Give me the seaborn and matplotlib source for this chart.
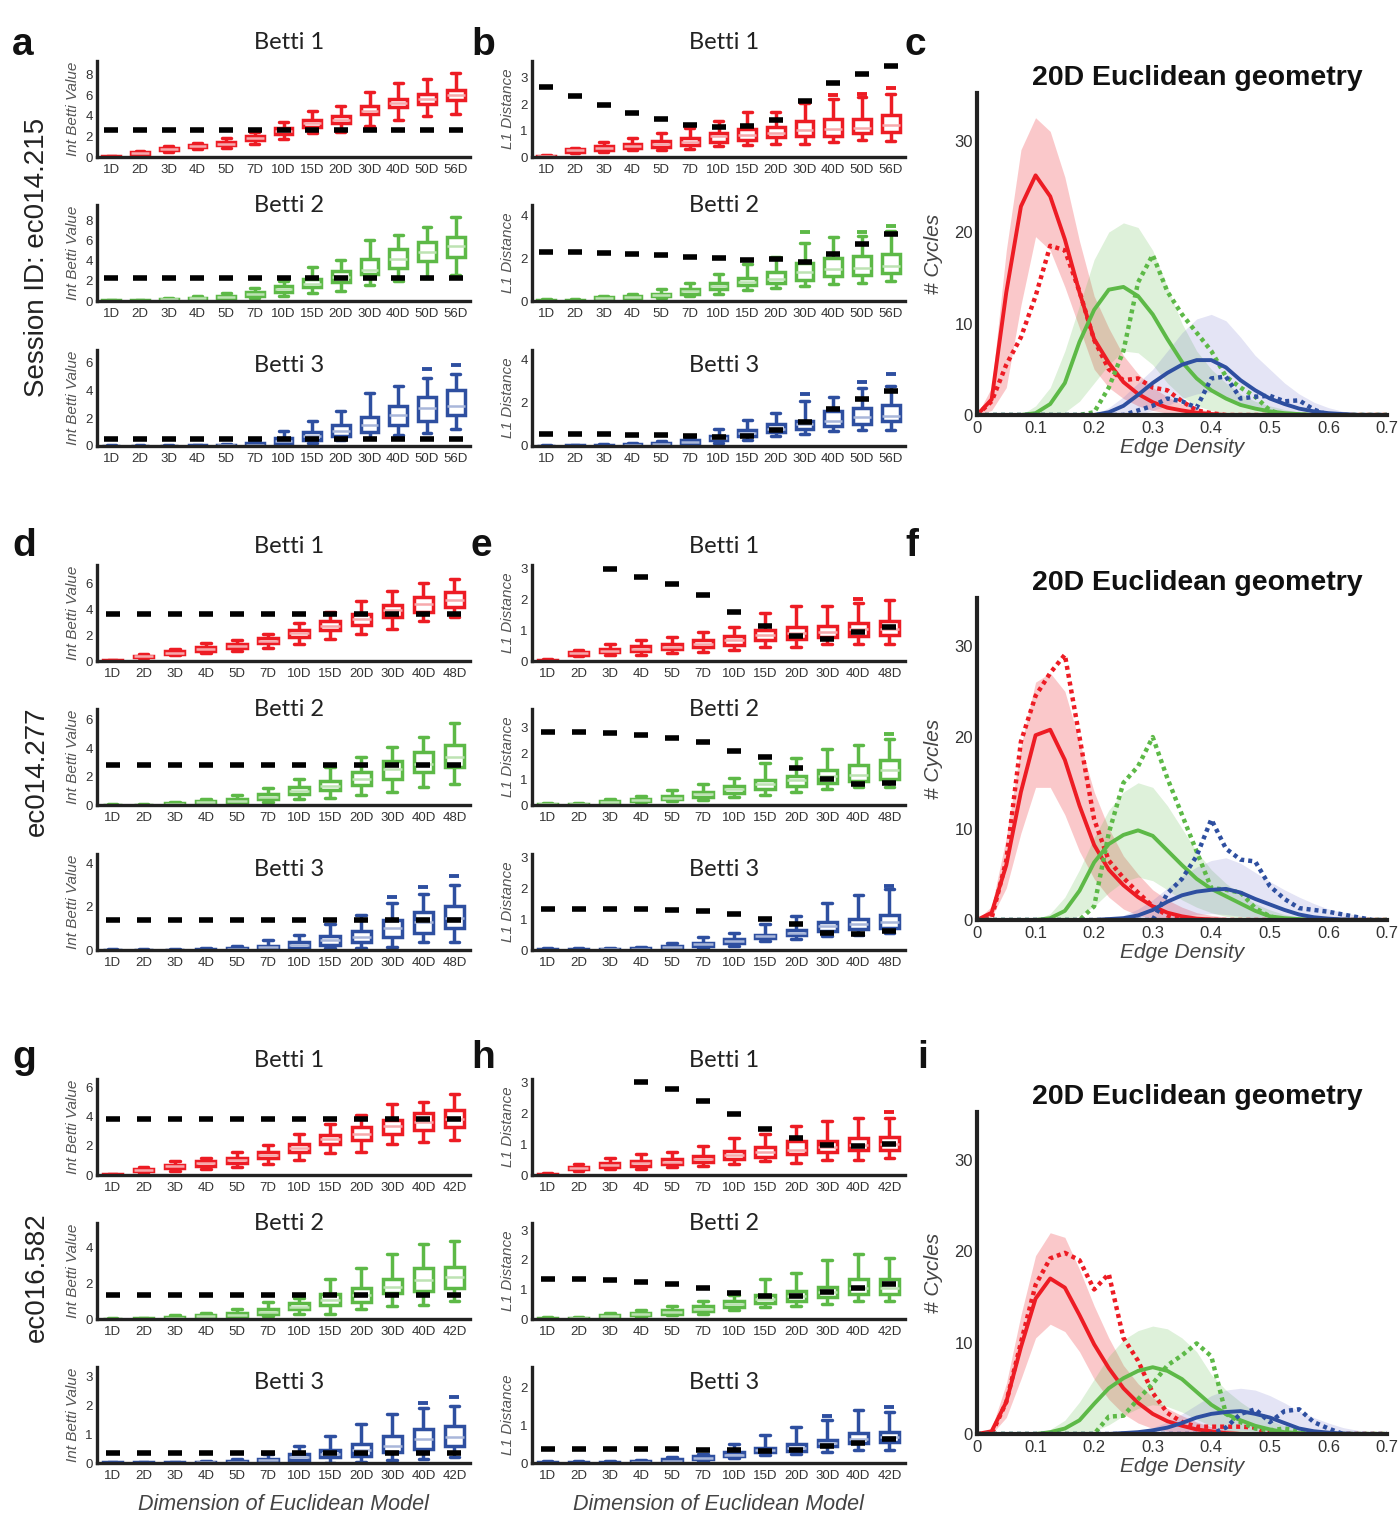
import numpy as np
import pandas as pd
import matplotlib
matplotlib.use("Agg")
import matplotlib.pyplot as plt
import seaborn as sns

sns.set_theme(style="white")
plt.rcParams["font.family"] = ["Liberation Sans", "DejaVu Sans"]

# ---------------------------------------------------------------- data
DIMS1 = ["1D", "2D", "3D", "4D", "5D", "7D", "10D", "15D", "20D", "30D", "40D", "50D", "56D"]
DIMS2 = ["1D", "2D", "3D", "4D", "5D", "7D", "10D", "15D", "20D", "30D", "40D", "48D"]
DIMS3 = ["1D", "2D", "3D", "4D", "5D", "7D", "10D", "15D", "20D", "30D", "40D", "42D"]

# box stats per dimension: [low whisker, q1, median, q3, high whisker]
# ---- session ec014.215, Int Betti value (panel a)
A1_BOX = [[0, 0, 0.02, 0.05, 0.1], [0.2, 0.3, 0.4, 0.45, 0.6], [0.5, 0.65, 0.75, 0.85, 1.1],
          [0.8, 0.95, 1.05, 1.15, 1.4], [0.9, 1.15, 1.3, 1.45, 1.8], [1.3, 1.6, 1.8, 2.0, 2.4],
          [1.7, 2.2, 2.5, 2.8, 3.4], [2.3, 2.9, 3.3, 3.6, 4.5], [2.4, 3.3, 3.6, 4.0, 4.9],
          [3.0, 4.2, 4.5, 4.9, 6.3], [3.6, 4.8, 5.2, 5.6, 7.2], [4.0, 5.1, 5.6, 6.1, 7.6],
          [4.2, 5.5, 6.0, 6.5, 8.1]]
A1_REF = 2.65
A2_BOX = [[0, 0, 0.02, 0.05, 0.1], [0, 0, 0.02, 0.05, 0.1], [0.05, 0.1, 0.15, 0.2, 0.3],
          [0.1, 0.2, 0.25, 0.3, 0.45], [0.15, 0.25, 0.35, 0.5, 0.8], [0.3, 0.5, 0.7, 0.9, 1.3],
          [0.5, 0.9, 1.2, 1.45, 2.0], [0.8, 1.4, 1.7, 2.2, 3.4], [1.0, 1.9, 2.4, 3.0, 4.1],
          [1.6, 2.7, 3.1, 4.2, 6.0], [2.0, 3.3, 4.2, 5.1, 6.5], [2.3, 4.0, 4.8, 5.8, 7.3],
          [2.6, 4.4, 5.4, 6.3, 8.3]]
A2_REF = 2.3
A3_BOX = [[0, 0, 0, 0.02, 0.05], [0, 0, 0, 0.02, 0.05], [0, 0, 0, 0.02, 0.05],
          [0, 0, 0.02, 0.05, 0.1], [0, 0.02, 0.05, 0.1, 0.15], [0, 0.05, 0.1, 0.2, 0.35],
          [0.05, 0.2, 0.35, 0.55, 1.05], [0.2, 0.45, 0.75, 1.0, 1.8], [0.4, 0.7, 1.1, 1.5, 2.5],
          [0.6, 1.0, 1.5, 2.1, 3.8], [0.8, 1.5, 2.2, 2.9, 4.3], [0.9, 1.8, 2.7, 3.5, 4.9],
          [1.2, 2.2, 2.9, 4.0, 5.2]]
A3_REF = 0.53
A3_OUT = {"50D": 5.5, "56D": 5.8}

# ---- session ec014.215, L1 distance (panel b)
B1_BOX = [[0, 0, 0.02, 0.05, 0.08], [0.15, 0.2, 0.25, 0.3, 0.35], [0.2, 0.28, 0.35, 0.42, 0.55],
          [0.25, 0.33, 0.42, 0.5, 0.7], [0.25, 0.38, 0.48, 0.6, 0.9], [0.3, 0.45, 0.58, 0.72, 1.1],
          [0.4, 0.58, 0.78, 0.9, 1.38], [0.45, 0.65, 0.82, 1.05, 1.7], [0.5, 0.75, 0.92, 1.15, 1.7],
          [0.5, 0.8, 1.02, 1.38, 2.05], [0.55, 0.8, 1.05, 1.42, 2.2], [0.65, 0.9, 1.1, 1.45, 2.25],
          [0.6, 0.95, 1.2, 1.6, 2.4]]
B1_REF = [2.65, 2.3, 1.97, 1.65, 1.42, 1.2, 1.12, 1.16, 1.41, 2.13, 2.79, 3.14, 3.45]
B1_OUT = {"40D": 2.33, "50D": 2.4, "56D": 2.6}
B2_BOX = [[0, 0, 0.02, 0.05, 0.08], [0, 0, 0.02, 0.05, 0.08], [0.05, 0.1, 0.13, 0.17, 0.22],
          [0.1, 0.15, 0.2, 0.25, 0.35], [0.15, 0.22, 0.28, 0.35, 0.55], [0.25, 0.35, 0.45, 0.55, 0.85],
          [0.35, 0.55, 0.7, 0.85, 1.25], [0.5, 0.75, 0.9, 1.1, 1.75], [0.6, 0.85, 1.05, 1.35, 2.05],
          [0.7, 1.0, 1.35, 1.8, 2.7], [0.8, 1.15, 1.5, 2.0, 3.0], [0.85, 1.2, 1.55, 2.1, 3.05],
          [0.95, 1.3, 1.65, 2.2, 3.3]]
B2_REF = [2.28, 2.28, 2.25, 2.2, 2.17, 2.08, 2.0, 1.92, 1.95, 1.81, 2.22, 2.68, 3.16]
B2_OUT = {"30D": 3.25, "50D": 3.25, "56D": 3.5}
B3_BOX = [[0, 0, 0, 0.02, 0.05], [0, 0, 0.01, 0.03, 0.06], [0, 0, 0.02, 0.04, 0.08],
          [0, 0.02, 0.05, 0.08, 0.12], [0.03, 0.07, 0.1, 0.15, 0.25], [0.08, 0.15, 0.2, 0.28, 0.4],
          [0.15, 0.3, 0.38, 0.45, 0.8], [0.3, 0.45, 0.6, 0.72, 1.2], [0.45, 0.65, 0.8, 1.0, 1.55],
          [0.55, 0.8, 1.0, 1.15, 2.1], [0.7, 0.95, 1.15, 1.6, 2.25], [0.75, 1.0, 1.35, 1.75, 2.7],
          [0.75, 1.15, 1.4, 1.9, 2.8]]
B3_REF = [0.55, 0.55, 0.55, 0.52, 0.52, 0.45, 0.42, 0.46, 0.72, 1.13, 1.73, 2.19, 2.55]
B3_OUT = {"30D": 2.4, "50D": 2.95, "56D": 3.35}

# ---- session ec014.277, Int Betti value (panel d)
D1_BOX = [[0, 0, 0.02, 0.05, 0.08], [0.2, 0.28, 0.35, 0.42, 0.55], [0.45, 0.55, 0.65, 0.75, 0.95],
          [0.6, 0.8, 0.9, 1.05, 1.35], [0.75, 1.0, 1.15, 1.3, 1.65], [1.0, 1.35, 1.55, 1.75, 2.1],
          [1.3, 1.85, 2.15, 2.4, 2.9], [1.7, 2.4, 2.7, 3.05, 3.8], [2.1, 2.8, 3.2, 3.6, 4.6],
          [2.5, 3.4, 3.9, 4.3, 5.4], [3.1, 3.8, 4.4, 4.9, 6.0], [3.4, 4.2, 4.7, 5.3, 6.3]]
D1_REF = 3.63
D2_BOX = [[0, 0, 0.01, 0.03, 0.05], [0, 0, 0.01, 0.03, 0.06], [0.02, 0.05, 0.08, 0.12, 0.18],
          [0.05, 0.12, 0.18, 0.25, 0.4], [0.1, 0.2, 0.3, 0.42, 0.7], [0.2, 0.4, 0.55, 0.75, 1.2],
          [0.4, 0.75, 1.0, 1.25, 1.8], [0.5, 1.05, 1.35, 1.7, 2.7], [0.7, 1.4, 1.8, 2.3, 3.4],
          [0.9, 1.8, 2.5, 3.1, 4.1], [1.3, 2.3, 2.9, 3.7, 4.8], [1.5, 2.7, 3.4, 4.2, 5.8]]
D2_REF = 2.84
D3_BOX = [[0, 0, 0, 0.02, 0.05], [0, 0, 0, 0.02, 0.05], [0, 0, 0, 0.02, 0.05],
          [0, 0, 0.02, 0.05, 0.1], [0, 0.02, 0.05, 0.1, 0.18], [0, 0.05, 0.12, 0.2, 0.45],
          [0, 0.1, 0.25, 0.35, 0.7], [0.1, 0.25, 0.45, 0.65, 1.2], [0.1, 0.35, 0.6, 0.9, 1.6],
          [0.15, 0.6, 1.0, 1.4, 2.2], [0.35, 0.8, 1.3, 1.75, 2.6], [0.35, 1.0, 1.5, 2.05, 3.0]]
D3_REF = 1.37
D3_OUT = {"30D": 2.45, "40D": 2.9, "48D": 3.45}

# ---- session ec014.277, L1 distance (panel e)
E1_BOX = [[0, 0, 0.01, 0.03, 0.06], [0.15, 0.2, 0.25, 0.28, 0.35], [0.2, 0.28, 0.33, 0.4, 0.55],
          [0.2, 0.32, 0.4, 0.48, 0.68], [0.25, 0.38, 0.45, 0.55, 0.78], [0.3, 0.45, 0.55, 0.68, 0.95],
          [0.35, 0.52, 0.7, 0.8, 1.1], [0.45, 0.7, 0.85, 1.02, 1.55], [0.45, 0.72, 0.92, 1.1, 1.78],
          [0.55, 0.78, 0.95, 1.15, 1.8], [0.55, 0.82, 1.05, 1.25, 1.9], [0.55, 0.85, 1.05, 1.3, 2.0]]
E1_REF = [3.8, 3.4, 3.0, 2.73, 2.5, 2.14, 1.6, 1.15, 0.82, 0.72, 0.93, 1.1]
E1_OUT = {"40D": 2.03}
E2_BOX = [[0, 0, 0.02, 0.05, 0.08], [0, 0, 0.02, 0.05, 0.08], [0.05, 0.1, 0.13, 0.17, 0.22],
          [0.1, 0.15, 0.2, 0.25, 0.35], [0.15, 0.22, 0.28, 0.35, 0.58], [0.2, 0.32, 0.42, 0.5, 0.8],
          [0.3, 0.45, 0.6, 0.72, 1.05], [0.4, 0.6, 0.8, 0.95, 1.6], [0.5, 0.75, 0.95, 1.12, 1.8],
          [0.6, 0.85, 1.1, 1.35, 2.15], [0.7, 0.92, 1.15, 1.55, 2.3], [0.7, 1.0, 1.35, 1.75, 2.55]]
E2_REF = [2.82, 2.82, 2.76, 2.7, 2.6, 2.42, 2.1, 1.85, 1.42, 0.99, 0.81, 0.86]
E2_OUT = {"48D": 2.72}
E3_BOX = [[0, 0, 0.01, 0.02, 0.05], [0, 0, 0.01, 0.02, 0.05], [0, 0, 0.02, 0.03, 0.06],
          [0, 0.02, 0.04, 0.06, 0.1], [0.02, 0.06, 0.1, 0.14, 0.22], [0.05, 0.12, 0.18, 0.24, 0.42],
          [0.12, 0.22, 0.3, 0.36, 0.56], [0.28, 0.38, 0.45, 0.5, 0.85], [0.35, 0.48, 0.55, 0.65, 1.1],
          [0.45, 0.62, 0.78, 0.9, 1.52], [0.5, 0.7, 0.85, 1.0, 1.8], [0.55, 0.72, 0.92, 1.15, 2.0]]
E3_REF = [1.35, 1.35, 1.35, 1.33, 1.32, 1.28, 1.18, 1.01, 0.85, 0.56, 0.53, 0.62]
E3_OUT = {"48D": 2.1}

# ---- session ec016.582, Int Betti value (panel g)
G1_BOX = [[0, 0, 0.02, 0.05, 0.1], [0.15, 0.25, 0.35, 0.42, 0.55], [0.3, 0.5, 0.6, 0.72, 0.95],
          [0.4, 0.65, 0.8, 0.95, 1.2], [0.55, 0.85, 1.0, 1.15, 1.55], [0.75, 1.2, 1.4, 1.6, 2.05],
          [1.05, 1.55, 1.85, 2.1, 2.8], [1.5, 2.15, 2.45, 2.75, 3.5], [1.6, 2.4, 2.85, 3.3, 4.1],
          [2.15, 2.8, 3.35, 3.8, 4.9], [2.25, 3.1, 3.65, 4.25, 5.05], [2.4, 3.3, 3.85, 4.5, 5.6]]
G1_REF = 3.84
G2_BOX = [[0, 0, 0, 0.02, 0.05], [0, 0, 0.01, 0.03, 0.06], [0, 0.04, 0.08, 0.12, 0.2],
          [0.02, 0.1, 0.15, 0.22, 0.35], [0.05, 0.15, 0.22, 0.32, 0.55], [0.15, 0.3, 0.4, 0.55, 0.95],
          [0.3, 0.55, 0.7, 0.9, 1.2], [0.3, 0.8, 1.05, 1.4, 2.25], [0.55, 0.95, 1.35, 1.75, 2.85],
          [0.75, 1.45, 1.8, 2.25, 3.65], [0.8, 1.55, 2.2, 2.85, 4.2], [1.0, 1.75, 2.35, 2.95, 4.4]]
G2_REF = 1.35
G3_BOX = [[0, 0, 0, 0.02, 0.05], [0, 0, 0, 0.02, 0.05], [0, 0, 0, 0.02, 0.05],
          [0, 0, 0.02, 0.04, 0.08], [0, 0.02, 0.04, 0.08, 0.15], [0, 0.05, 0.1, 0.15, 0.3],
          [0, 0.12, 0.2, 0.3, 0.6], [0, 0.2, 0.3, 0.45, 0.95], [0.05, 0.25, 0.45, 0.65, 1.35],
          [0.1, 0.4, 0.6, 0.95, 1.7], [0.15, 0.5, 0.85, 1.2, 1.9], [0.2, 0.6, 0.9, 1.3, 2.0]]
G3_REF = 0.36
G3_OUT = {"40D": 2.1, "42D": 2.3}

# ---- session ec016.582, L1 distance (panel h)
H1_BOX = [[0, 0, 0.01, 0.03, 0.06], [0.12, 0.18, 0.22, 0.27, 0.35], [0.2, 0.27, 0.32, 0.38, 0.55],
          [0.2, 0.3, 0.38, 0.45, 0.7], [0.25, 0.35, 0.42, 0.52, 0.75], [0.3, 0.42, 0.52, 0.62, 0.95],
          [0.35, 0.52, 0.65, 0.78, 1.2], [0.45, 0.6, 0.75, 0.9, 1.35], [0.4, 0.7, 0.8, 1.1, 1.6],
          [0.5, 0.75, 0.9, 1.1, 1.75], [0.5, 0.8, 0.98, 1.2, 1.85], [0.55, 0.82, 1.0, 1.25, 1.85]]
H1_REF = [4.0, 3.6, 3.3, 3.02, 2.81, 2.42, 1.98, 1.49, 1.22, 0.98, 0.96, 1.02]
H1_OUT = {"42D": 2.05}
H2_BOX = [[0, 0, 0.01, 0.03, 0.06], [0, 0, 0.02, 0.04, 0.07], [0.03, 0.07, 0.1, 0.14, 0.2],
          [0.08, 0.13, 0.18, 0.22, 0.32], [0.12, 0.18, 0.24, 0.3, 0.45], [0.18, 0.28, 0.35, 0.45, 0.62],
          [0.3, 0.4, 0.5, 0.62, 0.8], [0.4, 0.55, 0.68, 0.82, 1.35], [0.45, 0.62, 0.78, 0.95, 1.55],
          [0.5, 0.75, 0.92, 1.1, 2.0], [0.6, 0.85, 1.05, 1.35, 2.2], [0.6, 0.85, 1.05, 1.35, 2.05]]
H2_REF = [1.35, 1.35, 1.31, 1.26, 1.2, 1.06, 0.88, 0.77, 0.77, 0.92, 1.06, 1.17]
H3_BOX = [[0, 0, 0, 0.02, 0.04], [0, 0, 0, 0.02, 0.04], [0, 0, 0.01, 0.03, 0.05],
          [0, 0, 0.02, 0.04, 0.08], [0, 0.03, 0.05, 0.1, 0.15], [0.05, 0.1, 0.14, 0.18, 0.25],
          [0.12, 0.18, 0.22, 0.28, 0.5], [0.2, 0.28, 0.35, 0.4, 0.75], [0.25, 0.33, 0.4, 0.5, 0.95],
          [0.3, 0.45, 0.52, 0.62, 1.15], [0.35, 0.52, 0.65, 0.8, 1.4], [0.35, 0.55, 0.7, 0.82, 1.35]]
H3_REF = [0.37, 0.37, 0.37, 0.37, 0.37, 0.35, 0.35, 0.33, 0.34, 0.44, 0.54, 0.63]
H3_OUT = {"30D": 1.25, "42D": 1.5}

# ---- Betti curves vs edge density (panels c, f, i)
EDGE = [0.0, 0.025, 0.05, 0.075, 0.1, 0.125, 0.15, 0.175, 0.2, 0.225, 0.25, 0.275, 0.3, 0.325,
        0.35, 0.375, 0.4, 0.425, 0.45, 0.475, 0.5, 0.525, 0.55, 0.575, 0.6, 0.625, 0.65, 0.675, 0.7]

C_R_MEAN = [0, 1.7, 13.4, 22.8, 26.2, 23.9, 19.2, 13.4, 8.3, 5.7, 3.6, 2.3, 1.4, 0.8, 0.5, 0.25, 0.1, 0, 0, 0, 0, 0, 0, 0, 0, 0, 0, 0, 0]
C_R_HI = [0, 3, 18, 29, 32.5, 31, 26, 19, 13, 9.5, 6.5, 4.5, 3, 2, 1.2, 0.7, 0.4, 0.2, 0, 0, 0, 0, 0, 0, 0, 0, 0, 0, 0]
C_R_LO = [0, 0.5, 3, 12, 19.5, 18, 14, 9.5, 5, 3, 1.8, 1.0, 0.5, 0.2, 0, 0, 0, 0, 0, 0, 0, 0, 0, 0, 0, 0, 0, 0, 0]
C_R_REAL = [0, 1.5, 5.5, 8.5, 13, 18.5, 18, 13.5, 8.2, 5, 3.8, 4.0, 3.0, 2.7, 1.5, 0.5, 0.2, 0, 0, 0, 0, 0, 0, 0, 0, 0, 0, 0, 0]
C_G_MEAN = [0, 0, 0, 0, 0.2, 1.2, 3.5, 8, 11.5, 13.7, 14.0, 13.0, 11, 8.3, 5.8, 4.0, 2.7, 1.8, 1.1, 0.7, 0.4, 0.2, 0.1, 0, 0, 0, 0, 0, 0]
C_G_HI = [0, 0, 0, 0, 1, 3, 7, 12, 17, 20, 21, 20.5, 18, 14, 10, 7, 5, 3.5, 2.3, 1.5, 1, 0.6, 0.3, 0, 0, 0, 0, 0, 0]
C_G_LO = [0, 0, 0, 0, 0, 0, 0.3, 1.5, 3.5, 5.5, 7, 6.8, 5.5, 3.5, 2, 1, 0.5, 0.2, 0, 0, 0, 0, 0, 0, 0, 0, 0, 0, 0]
C_G_REAL = [0, 0, 0, 0, 0, 0, 0, 0, 0.3, 3, 7, 14.5, 17.5, 13.5, 11, 9, 7, 4.2, 3.0, 2.0, 0.5, 0, 0, 0, 0, 0, 0, 0, 0]
C_B_MEAN = [0, 0, 0, 0, 0, 0, 0, 0, 0, 0.3, 1.0, 2.2, 3.5, 4.6, 5.5, 6.0, 6.0, 5.2, 3.8, 2.7, 1.8, 1.2, 0.7, 0.4, 0.2, 0.1, 0, 0, 0]
C_B_HI = [0, 0, 0, 0, 0, 0, 0, 0, 0, 0.8, 2, 3.5, 5, 7, 9, 10.5, 11, 10.3, 8.5, 6.5, 5, 3.5, 2.3, 1.4, 0.8, 0.4, 0.2, 0.1, 0]
C_B_LO = [0, 0, 0, 0, 0, 0, 0, 0, 0, 0, 0, 0, 0.5, 1, 1.8, 2.3, 2.5, 2.0, 1.2, 0.6, 0.2, 0, 0, 0, 0, 0, 0, 0, 0]
C_B_REAL = [0, 0, 0, 0, 0, 0, 0, 0, 0, 0, 0, 0.5, 1.0, 1.8, 1.5, 0.8, 4.0, 4.2, 1.8, 2.0, 2.1, 1.5, 1.6, 0.6, 0, 0, 0, 0, 0]

F_R_MEAN = [0, 0.8, 6, 14, 20.2, 20.8, 17.5, 12.5, 8.2, 5.5, 3.8, 2.5, 1.5, 0.8, 0.4, 0.15, 0.05, 0, 0, 0, 0, 0, 0, 0, 0, 0, 0, 0, 0]
F_R_HI = [0, 1.5, 9, 19, 26, 27, 25, 19.5, 14, 10, 7, 5, 3.3, 2.2, 1.4, 0.8, 0.5, 0.3, 0.15, 0, 0, 0, 0, 0, 0, 0, 0, 0, 0]
F_R_LO = [0, 0.3, 3.5, 9.5, 14.5, 14.5, 11.5, 7.5, 4.5, 2.5, 1.2, 0.5, 0.2, 0, 0, 0, 0, 0, 0, 0, 0, 0, 0, 0, 0, 0, 0, 0, 0]
F_R_REAL = [0, 0.2, 6.5, 19.5, 24.5, 27, 29, 20, 11, 6.5, 4.6, 3.0, 1.5, 0.5, 0, 0, 0, 0, 0, 0, 0, 0, 0, 0, 0, 0, 0, 0, 0]
F_G_MEAN = [0, 0, 0, 0, 0, 0.2, 1.0, 3.2, 6.3, 8.3, 9.3, 9.8, 9.2, 7.6, 6.0, 4.5, 3.4, 2.6, 1.8, 1.0, 0.4, 0.2, 0.1, 0, 0, 0, 0, 0, 0]
F_G_HI = [0, 0, 0, 0, 0, 0.7, 2.5, 5.5, 9, 12, 14, 15, 14.5, 12.5, 10, 7.5, 5.5, 4, 2.8, 1.8, 1.1, 0.6, 0.3, 0, 0, 0, 0, 0, 0]
F_G_LO = [0, 0, 0, 0, 0, 0, 0, 0.5, 1.5, 3, 4.2, 4.7, 4.3, 3.3, 2.2, 1.4, 0.8, 0.4, 0.2, 0, 0, 0, 0, 0, 0, 0, 0, 0, 0]
F_G_REAL = [0, 0, 0, 0, 0, 0, 0, 0, 1.5, 9.5, 15, 16.8, 20, 15.5, 11.5, 7.5, 3.5, 3.3, 3.0, 1.3, 0.4, 0, 0, 0, 0, 0, 0, 0, 0]
F_B_MEAN = [0, 0, 0, 0, 0, 0, 0, 0, 0, 0.1, 0.2, 0.5, 1.1, 2.0, 2.7, 3.1, 3.3, 3.4, 3.0, 2.3, 1.7, 1.1, 0.6, 0.3, 0.15, 0.05, 0, 0, 0]
F_B_HI = [0, 0, 0, 0, 0, 0, 0, 0, 0, 0, 0.5, 1.2, 2.2, 3.5, 4.8, 5.8, 6.5, 6.8, 6.2, 5.2, 4.2, 3.3, 2.5, 1.8, 1.2, 0.8, 0.5, 0.3, 0.1]
F_B_LO = [0, 0, 0, 0, 0, 0, 0, 0, 0, 0, 0, 0, 0, 0.2, 0.4, 0.6, 0.7, 0.6, 0.4, 0.2, 0, 0, 0, 0, 0, 0, 0, 0, 0]
F_B_REAL = [0, 0, 0, 0, 0, 0, 0, 0, 0, 0, 0, 0, 0, 2.9, 4.5, 7.0, 11.0, 7.8, 6.6, 6.4, 3.7, 2.3, 1.3, 1.1, 0.9, 0.6, 0.3, 0, 0]

I_R_MEAN = [0, 0.3, 3.5, 9.5, 14.8, 17, 16, 13, 9.8, 7.2, 5, 3.4, 2.2, 1.4, 0.9, 0.5, 0.3, 0.1, 0, 0, 0, 0, 0, 0, 0, 0, 0, 0, 0]
I_R_HI = [0, 0.6, 5.5, 13, 19.5, 22, 21.5, 18, 14, 10.5, 7.5, 5.5, 4, 2.8, 2, 1.3, 0.8, 0.5, 0.3, 0.15, 0, 0, 0, 0, 0, 0, 0, 0, 0]
I_R_LO = [0, 0, 1.8, 6, 10.5, 12, 11.2, 9, 6, 3.8, 2.2, 1.2, 0.6, 0.3, 0.1, 0, 0, 0, 0, 0, 0, 0, 0, 0, 0, 0, 0, 0, 0]
I_R_REAL = [0, 0, 3.5, 10, 16.3, 19.2, 19.8, 19.0, 15.8, 17.5, 10.5, 8.0, 4.5, 2.3, 1.3, 0.8, 0.8, 0.8, 0.8, 0.7, 0, 0, 0, 0, 0, 0, 0, 0, 0]
I_G_MEAN = [0, 0, 0, 0, 0, 0.2, 0.6, 1.5, 3.3, 5, 6.1, 6.9, 7.3, 6.9, 6.0, 4.6, 3.2, 2.2, 1.5, 0.9, 0.5, 0.2, 0.1, 0, 0, 0, 0, 0, 0]
I_G_HI = [0, 0, 0, 0, 0, 0.5, 1.5, 3.5, 6, 8.5, 10.3, 11.3, 11.8, 11.5, 10.5, 9, 6.5, 4.8, 3.5, 2.4, 1.5, 0.9, 0.5, 0.2, 0, 0, 0, 0, 0]
I_G_LO = [0, 0, 0, 0, 0, 0, 0, 0, 0.3, 1, 2, 2.8, 3.2, 3, 2.4, 1.6, 0.9, 0.4, 0.1, 0, 0, 0, 0, 0, 0, 0, 0, 0, 0]
I_G_REAL = [0, 0, 0, 0, 0, 0, 0, 0, 0, 1.9, 2.0, 3.8, 5.5, 7.5, 8.6, 9.9, 8.5, 2.2, 1.3, 0.6, 0.4, 0.6, 0.4, 0, 0, 0, 0, 0, 0]
I_B_MEAN = [0, 0, 0, 0, 0, 0, 0, 0, 0, 0, 0.1, 0.2, 0.4, 0.7, 1.2, 1.8, 2.2, 2.4, 2.5, 2.2, 1.8, 1.2, 0.6, 0.3, 0.15, 0.05, 0, 0, 0]
I_B_HI = [0, 0, 0, 0, 0, 0, 0, 0, 0, 0, 0, 0.3, 0.7, 1.3, 2.2, 3.2, 4.2, 4.8, 5.0, 4.8, 4.2, 3.4, 2.5, 1.8, 1.2, 0.7, 0.4, 0.2, 0.1]
I_B_LO = [0, 0, 0, 0, 0, 0, 0, 0, 0, 0, 0, 0, 0, 0, 0, 0.1, 0.3, 0.4, 0.4, 0.3, 0.2, 0, 0, 0, 0, 0, 0, 0, 0]
I_B_REAL = [0, 0, 0, 0, 0, 0, 0, 0, 0, 0, 0, 0, 0, 0, 0, 0, 0, 0.7, 2.2, 2.7, 1.3, 2.5, 2.7, 1.3, 0.6, 0, 0, 0, 0]

SESSIONS = ["Session ID: ec014.215", "ec014.277", "ec016.582"]
EDGE_TICKS = [0, 0.1, 0.2, 0.3, 0.4, 0.5, 0.6, 0.7]
EDGE_TICKLABELS = ["0", "0.1", "0.2", "0.3", "0.4", "0.5", "0.6", "0.7"]

# ---------------------------------------------------------------- style
RED = "#ED1C24"
GREEN = "#5DB947"
BLUE = "#2E4FA0"
LIGHT = {RED: "#F7A9AC", GREEN: "#BDE3B3", BLUE: "#A9B7DA"}
BAND = {RED: ("#ED1C24", 0.24), GREEN: ("#5DB947", 0.2), BLUE: ("#6A6AC8", 0.18)}
SPINE = "#222222"
TICKC = "#333333"
TITLE_FONT = ["Lato", "DejaVu Sans"]

W, H = 1398, 1513
fig = plt.figure(figsize=(W / 100, H / 100), dpi=100)


def fbox(left, top, width, height):
    return [left / W, 1 - (top + height) / H, width / W, height / H]


def style_axes(ax, lw=2.4, tl=5, labelsize=9.5):
    sns.despine(ax=ax)
    for s in ("left", "bottom"):
        ax.spines[s].set_linewidth(lw)
        ax.spines[s].set_color(SPINE)
        ax.spines[s].set_zorder(6)
    ax.tick_params(axis="both", direction="in", length=tl, width=lw, color=SPINE,
                   labelsize=labelsize, labelcolor=TICKC)
    ax.tick_params(axis="x", pad=5)
    ax.tick_params(axis="y", pad=3)


def box_panel(ax, dims, boxes, ref, outliers, color, ytop, yticks, ylabel, title, title_y):
    rows = []
    for d, b in zip(dims, boxes):
        for v in b:
            rows.append((d, v))
    df = pd.DataFrame(rows, columns=["dim", "val"])
    sns.boxplot(data=df, x="dim", y="val", order=dims, whis=(0, 100), width=0.62,
                fill=True, color="white", linecolor=color, linewidth=2.5,
                medianprops=dict(color=LIGHT[color], linewidth=1.8), ax=ax)
    if outliers:
        od = pd.DataFrame({"dim": list(outliers.keys()), "val": list(outliers.values())})
        sns.pointplot(data=od, x="dim", y="val", order=dims, color=color, linestyle="none",
                      marker="_", markersize=6.5, markeredgewidth=2.8, errorbar=None, ax=ax,
                      zorder=4)
    refv = ref if isinstance(ref, list) else [ref] * len(dims)
    rd = pd.DataFrame({"dim": dims, "val": refv})
    sns.pointplot(data=rd, x="dim", y="val", order=dims, color="black", linestyle="none",
                  marker="_", markersize=10, markeredgewidth=4.0, errorbar=None, ax=ax,
                  zorder=5)
    ax.set_xlim(-0.5, len(dims) - 0.5)
    ax.set_ylim(0, ytop)
    ax.set_yticks(yticks)
    ax.set_yticklabels([str(t) for t in yticks])
    ax.set_xlabel("")
    ax.set_ylabel(ylabel, style="italic", fontsize=11, color="#555555", labelpad=4)
    style_axes(ax)
    ax.text(0.515, title_y, title, transform=ax.transAxes, ha="center", va="center",
            fontsize=17, family=TITLE_FONT, color="#222222")


def line_panel(ax, series):
    for mean, lo, hi, real, col in series:
        bc, ba = BAND[col]
        ax.fill_between(EDGE, lo, hi, color=bc, alpha=ba, lw=0, zorder=1)
    for mean, lo, hi, real, col in series:
        sns.lineplot(x=EDGE, y=mean, color=col, lw=2.8, ax=ax, zorder=3)
        sns.lineplot(x=EDGE, y=real, color=col, lw=3.2, linestyle=(0, (0.9, 0.9)), ax=ax,
                     zorder=3)
    ax.set_xlim(0, 0.7)
    ax.set_ylim(0, 35.2)
    ax.set_xticks(EDGE_TICKS)
    ax.set_xticklabels(EDGE_TICKLABELS)
    ax.set_yticks([0, 10, 20, 30])
    style_axes(ax, lw=3.0, tl=5, labelsize=12)
    ax.tick_params(axis="x", pad=4)
    ax.set_xlabel("Edge Density", style="italic", fontsize=15, color="#444444", labelpad=2)
    ax.set_ylabel("# Cycles", style="italic", fontsize=15, color="#444444", labelpad=8)
    ax.text(0.537, 1.048, "20D Euclidean geometry", transform=ax.transAxes, ha="center",
            va="center", fontsize=20.5, weight="bold", color="#111111")


COLORS = [RED, GREEN, BLUE]
TITLES = ["Betti 1", "Betti 2", "Betti 3"]
TITLE_Y = [1.19, 0.99, 0.84]
ROW_BOTTOMS = [[157, 301, 446], [661, 805, 950], [1175, 1319, 1463]]

LEFT_SETS = [
    (DIMS1, [(A1_BOX, A1_REF, None, 9.3, [0, 2, 4, 6, 8]),
             (A2_BOX, A2_REF, None, 9.5, [0, 2, 4, 6, 8]),
             (A3_BOX, A3_REF, A3_OUT, 6.9, [0, 2, 4, 6])]),
    (DIMS2, [(D1_BOX, D1_REF, None, 7.4, [0, 2, 4, 6]),
             (D2_BOX, D2_REF, None, 6.75, [0, 2, 4, 6]),
             (D3_BOX, D3_REF, D3_OUT, 4.45, [0, 2, 4])]),
    (DIMS3, [(G1_BOX, G1_REF, None, 6.6, [0, 2, 4, 6]),
             (G2_BOX, G2_REF, None, 5.4, [0, 2, 4]),
             (G3_BOX, G3_REF, G3_OUT, 3.34, [0, 1, 2, 3])]),
]
RIGHT_SETS = [
    [(B1_BOX, B1_REF, B1_OUT, 3.63, [0, 1, 2, 3]),
     (B2_BOX, B2_REF, B2_OUT, 4.5, [0, 2, 4]),
     (B3_BOX, B3_REF, B3_OUT, 4.45, [0, 2, 4])],
    [(E1_BOX, E1_REF, E1_OUT, 3.13, [0, 1, 2, 3]),
     (E2_BOX, E2_REF, E2_OUT, 3.7, [0, 1, 2, 3]),
     (E3_BOX, E3_REF, E3_OUT, 3.13, [0, 1, 2, 3])],
    [(H1_BOX, H1_REF, H1_OUT, 3.13, [0, 1, 2, 3]),
     (H2_BOX, H2_REF, None, 3.25, [0, 1, 2, 3]),
     (H3_BOX, H3_REF, H3_OUT, 2.55, [0, 1, 2])],
]
LINE_SETS = [
    [(C_R_MEAN, C_R_LO, C_R_HI, C_R_REAL, RED), (C_G_MEAN, C_G_LO, C_G_HI, C_G_REAL, GREEN),
     (C_B_MEAN, C_B_LO, C_B_HI, C_B_REAL, BLUE)],
    [(F_R_MEAN, F_R_LO, F_R_HI, F_R_REAL, RED), (F_G_MEAN, F_G_LO, F_G_HI, F_G_REAL, GREEN),
     (F_B_MEAN, F_B_LO, F_B_HI, F_B_REAL, BLUE)],
    [(I_R_MEAN, I_R_LO, I_R_HI, I_R_REAL, RED), (I_G_MEAN, I_G_LO, I_G_HI, I_G_REAL, GREEN),
     (I_B_MEAN, I_B_LO, I_B_HI, I_B_REAL, BLUE)],
]
LINE_TOPS = [93, 598, 1112]
SESSION_Y = [257, 771, 1277]
LETTERS = [("a", "b", "c"), ("d", "e", "f"), ("g", "h", "i")]
LETTER_BASE = [55, 556, 1068]

for s in range(3):
    dims, left_rows = LEFT_SETS[s]
    for r in range(3):
        bottom = ROW_BOTTOMS[s][r]
        box, ref, out, ytop, yt = left_rows[r]
        ax = fig.add_axes(fbox(97, bottom - 96, 373, 96))
        box_panel(ax, dims, box, ref, out, COLORS[r], ytop, yt, "Int Betti Value",
                  TITLES[r], TITLE_Y[r])
        box, ref, out, ytop, yt = RIGHT_SETS[s][r]
        ax = fig.add_axes(fbox(532, bottom - 96, 373, 96))
        box_panel(ax, dims, box, ref, out, COLORS[r], ytop, yt, "L1 Distance",
                  TITLES[r], TITLE_Y[r])
    top = LINE_TOPS[s]
    ax = fig.add_axes(fbox(977, top, 410, 322))
    line_panel(ax, LINE_SETS[s])

    fig.text(37 / W, 1 - SESSION_Y[s] / H, SESSIONS[s], rotation=90, ha="center",
             va="center", fontsize=20, color="#222222")
    la, lb, lc = LETTERS[s]
    yb = 1 - LETTER_BASE[s] / H
    fig.text(12 / W, yb, la, fontsize=28, weight="bold", va="baseline", color="#111111")
    fig.text(471 / W, yb, lb, fontsize=28, weight="bold", va="baseline", color="#111111")
    fig.text((905 if lc != "i" else 917) / W, yb, lc, fontsize=28, weight="bold",
             va="baseline", color="#111111")

for cx in (283, 718):
    fig.text(cx / W, 1 - 1504 / H, "Dimension of Euclidean Model", ha="center", va="center",
             fontsize=15.5, style="italic", color="#444444")

fig.savefig("out.png", dpi=100, facecolor="white")
